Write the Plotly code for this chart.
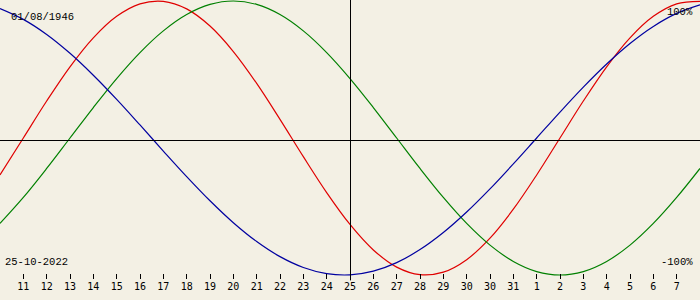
import plotly.graph_objects as go

# Day index 0..30 (index 15 = 25-10-2022)
day_index = list(range(31))

tick_positions = list(range(1, 30))
tick_labels = ["11", "12", "13", "14", "15", "16", "17", "18", "19", "20",
               "21", "22", "23", "24", "25", "26", "27", "28", "29", "30",
               "30", "31", "1", "2", "3", "4", "5", "6", "7"]

physical = [-0.2698, 0.0, 0.2698, 0.5196, 0.7308, 0.8879, 0.9791, 0.9977, 0.9423,
            0.8170, 0.6311, 0.3984, 0.1362, -0.1362, -0.3984, -0.6311, -0.8170,
            -0.9423, -0.9977, -0.9791, -0.8879, -0.7308, -0.5196, -0.2698, 0.0,
            0.2698, 0.5196, 0.7308, 0.8879, 0.9791, 0.9977]

emotional = [-0.6235, -0.4339, -0.2225, 0.0, 0.2225, 0.4339, 0.6235, 0.7818, 0.9010,
             0.9749, 1.0, 0.9749, 0.9010, 0.7818, 0.6235, 0.4339, 0.2225, 0.0,
             -0.2225, -0.4339, -0.6235, -0.7818, -0.9010, -0.9749, -1.0, -0.9749,
             -0.9010, -0.7818, -0.6235, -0.4339, -0.2225]

intellectual = [0.9450, 0.8660, 0.7557, 0.6182, 0.4582, 0.2817, 0.0951, -0.0951,
                -0.2817, -0.4582, -0.6182, -0.7557, -0.8660, -0.9450, -0.9898,
                -0.9989, -0.9718, -0.9096, -0.8146, -0.6901, -0.5406, -0.3717,
                -0.1893, 0.0, 0.1893, 0.3717, 0.5406, 0.6901, 0.8146, 0.9096, 0.9718]

birth_date = "01/08/1946"
target_date = "25-10-2022"

BG = "#f3f0e4"
FONT = "DejaVu Sans Mono"
FONT2 = "Liberation Mono"

W, H = 700, 300
B = 21
PH = H - B  # plot area height (279)
PX_PER_UNIT = 137.0
y_top = 1 + 1 / PX_PER_UNIT
y_bot = y_top - PH / PX_PER_UNIT


def py(pix):
    """paper y coordinate for a pixel row measured from top."""
    return (PH - pix) / PH


fig = go.Figure()
for vals, col in [(physical, "#e00000"), (emotional, "#008000"), (intellectual, "#0000a0")]:
    fig.add_trace(go.Scatter(x=day_index, y=vals, mode="lines",
                             line=dict(color=col, width=1.2, shape="spline", smoothing=1),
                             hoverinfo="skip", showlegend=False))

fig.update_layout(
    width=W, height=H,
    margin=dict(l=0, r=0, t=0, b=B, pad=0),
    paper_bgcolor=BG, plot_bgcolor=BG,
    showlegend=False,
    xaxis=dict(range=[0, 30], tickmode="array", tickvals=tick_positions, ticktext=tick_labels,
               ticks="inside", ticklen=5, tickwidth=1, tickcolor="black",
               showgrid=False, zeroline=False, showline=False,
               tickfont=dict(family=FONT, size=10, color="black"), fixedrange=True),
    yaxis=dict(range=[y_bot, y_top], visible=False, fixedrange=True),
    shapes=[
        dict(type="line", xref="paper", yref="paper", x0=0, x1=1, y0=py(140.5), y1=py(140.5),
             line=dict(color="black", width=1)),
        dict(type="line", xref="paper", yref="paper", x0=350.5 / W, x1=350.5 / W, y0=-0.005, y1=1,
             line=dict(color="black", width=1)),
    ],
    annotations=[
        dict(text=birth_date, xref="paper", yref="paper", x=9 / W, y=py(17), xanchor="left",
             yanchor="middle", showarrow=False, font=dict(family=FONT2, size=10.5, color="black")),
        dict(text=target_date, xref="paper", yref="paper", x=3 / W, y=py(262), xanchor="left",
             yanchor="middle", showarrow=False, font=dict(family=FONT2, size=10.5, color="black")),
        dict(text="100%", xref="paper", yref="paper", x=695 / W, y=py(12), xanchor="right",
             yanchor="middle", showarrow=False, font=dict(family=FONT2, size=10.5, color="black")),
        dict(text="-100%", xref="paper", yref="paper", x=695 / W, y=py(262), xanchor="right",
             yanchor="middle", showarrow=False, font=dict(family=FONT2, size=10.5, color="black")),
    ],
)

fig.write_html("out.html")
